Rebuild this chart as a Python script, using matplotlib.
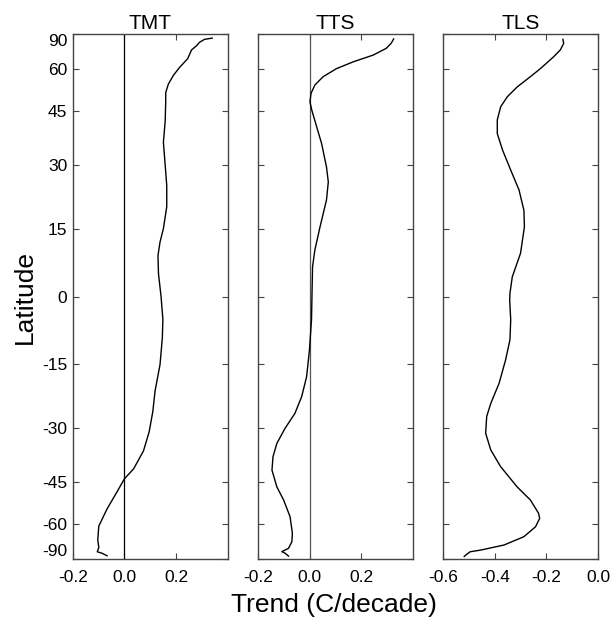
import numpy as np
import matplotlib
matplotlib.use("Agg")
import matplotlib.pyplot as plt

# 위도별 트렌드 자료
tmt_lat = [80, 78.5, 75.5, 73, 70, 65, 61, 57.5, 54, 51, 48, 42, 36, 30, 25, 20, 15, 12, 9, 5, 0,
           -5, -9, -15, -21, -26, -31, -36, -41, -44, -48, -54, -61, -68, -73, -76.5, -78, -81]
tmt_trend = [0.34, 0.31, 0.29, 0.28, 0.26, 0.245, 0.215, 0.19, 0.17, 0.16, 0.16, 0.158, 0.151, 0.158,
             0.164, 0.164, 0.151, 0.138, 0.13, 0.132, 0.142, 0.149, 0.147, 0.138, 0.119, 0.11, 0.096,
             0.074, 0.036, 0.0, -0.028, -0.067, -0.099, -0.103, -0.099, -0.105, -0.086, -0.067]

tts_lat = [79, 74.7, 71, 66.9, 63.4, 60.3, 56.9, 53.7, 50.7, 47.9, 45.3, 40.3, 35.7, 29.6, 25.9,
           21.6, 15.4, 10.2, 6.5, 0.7, -5.1, -11.8, -17.8, -22.4, -26.4, -30.1, -34, -37.6, -41.4,
           -46.5, -50.8, -57, -64.4, -69.1, -73.6, -76.4, -78, -81.5]
tts_trend = [0.325, 0.315, 0.296, 0.245, 0.168, 0.104, 0.052, 0.02, 0.005, 0.001, 0.008, 0.027,
             0.046, 0.065, 0.072, 0.065, 0.04, 0.02, 0.011, 0.009, 0.007, -0.001, -0.012, -0.031,
             -0.057, -0.095, -0.127, -0.142, -0.146, -0.127, -0.101, -0.076, -0.067, -0.069,
             -0.082, -0.108, -0.095, -0.082]

tls_lat = [78.6, 74.7, 70, 66, 60.3, 56.9, 53, 49.6, 46.3, 42.3, 38.4, 34, 28.8, 24, 19.2, 15.4,
           9.5, 4.3, 0.7, -0.8, -5.1, -9.5, -14, -19.3, -24, -27.2, -31.4, -35.8, -40.4, -46.5,
           -50.8, -55.7, -57.7, -61.3, -66.2, -71.2, -75, -76.5, -80, -82]
tls_trend = [-0.136, -0.133, -0.146, -0.172, -0.223, -0.262, -0.313, -0.351, -0.377, -0.39, -0.39,
             -0.37, -0.338, -0.306, -0.287, -0.285, -0.3, -0.332, -0.341, -0.342, -0.338, -0.341,
             -0.358, -0.383, -0.415, -0.431, -0.435, -0.415, -0.377, -0.313, -0.262, -0.23, -0.226,
             -0.242, -0.287, -0.364, -0.454, -0.495, -0.512, -0.518]

titles = ["TMT", "TTS", "TLS"]
lat_ticks = [-90, -60, -45, -30, -15, 0, 15, 30, 45, 60, 90]
x_ticks = [[-0.2, 0.0, 0.2], [-0.2, 0.0, 0.2], [-0.6, -0.4, -0.2, 0.0]]
x_lims = [(-0.2, 0.4), (-0.2, 0.4), (-0.6, 0.0)]

plt.rcParams['font.family'] = ['Liberation Sans', 'DejaVu Sans']

# 면적 가중 (sin 위도) 축
def fwd(y):
    return np.sin(np.deg2rad(y))

def inv(s):
    return np.rad2deg(np.arcsin(np.clip(s, -1, 1)))

fig = plt.figure(figsize=(6.12, 6.19), dpi=100)
lefts = [0.1188, 0.4216, 0.7239]
series = [(tmt_lat, tmt_trend), (tts_lat, tts_trend), (tls_lat, tls_trend)]
zero_colors = ["black", "#555555", None]

for i in range(3):
    ax = fig.add_axes([lefts[i], 0.0969, 0.2533, 0.848])
    ax.set_yscale('function', functions=(fwd, inv))
    ax.set_ylim(-90, 90)
    ax.set_xlim(*x_lims[i])
    if zero_colors[i]:
        ax.axvline(0, color=zero_colors[i], lw=0.9)
    lat, tr = series[i]
    ax.plot(tr, lat, color="black", lw=1.0)
    ax.set_yticks(lat_ticks)
    ax.set_xticks(x_ticks[i])
    ax.set_xticklabels([f"{v:.1f}" for v in x_ticks[i]])
    if i == 0:
        ax.set_yticklabels([str(t) for t in lat_ticks])
        # 양 끝 라벨은 축 안쪽으로
        labs = ax.get_yticklabels()
        labs[0].set_va("bottom")
        labs[-1].set_va("top")
    else:
        ax.set_yticklabels([])
    ax.yaxis.set_minor_locator(matplotlib.ticker.NullLocator())
    ax.tick_params(direction='in', top=True, right=True, length=4, width=0.8,
                   color="#444444", labelsize=12.5)
    ax.tick_params(axis='x', pad=8)
    ax.tick_params(axis='y', pad=4)
    for sp in ax.spines.values():
        sp.set_color("#444444")
        sp.set_linewidth(1.0)
    ax.set_title(titles[i], fontsize=15, pad=4)

fig.text(0.04, 0.52, "Latitude", rotation=90, fontsize=19, ha="center", va="center")
fig.text(0.546, 0.022, "Trend (C/decade)", fontsize=19, ha="center", va="center")

fig.savefig("out.png", dpi=100)
